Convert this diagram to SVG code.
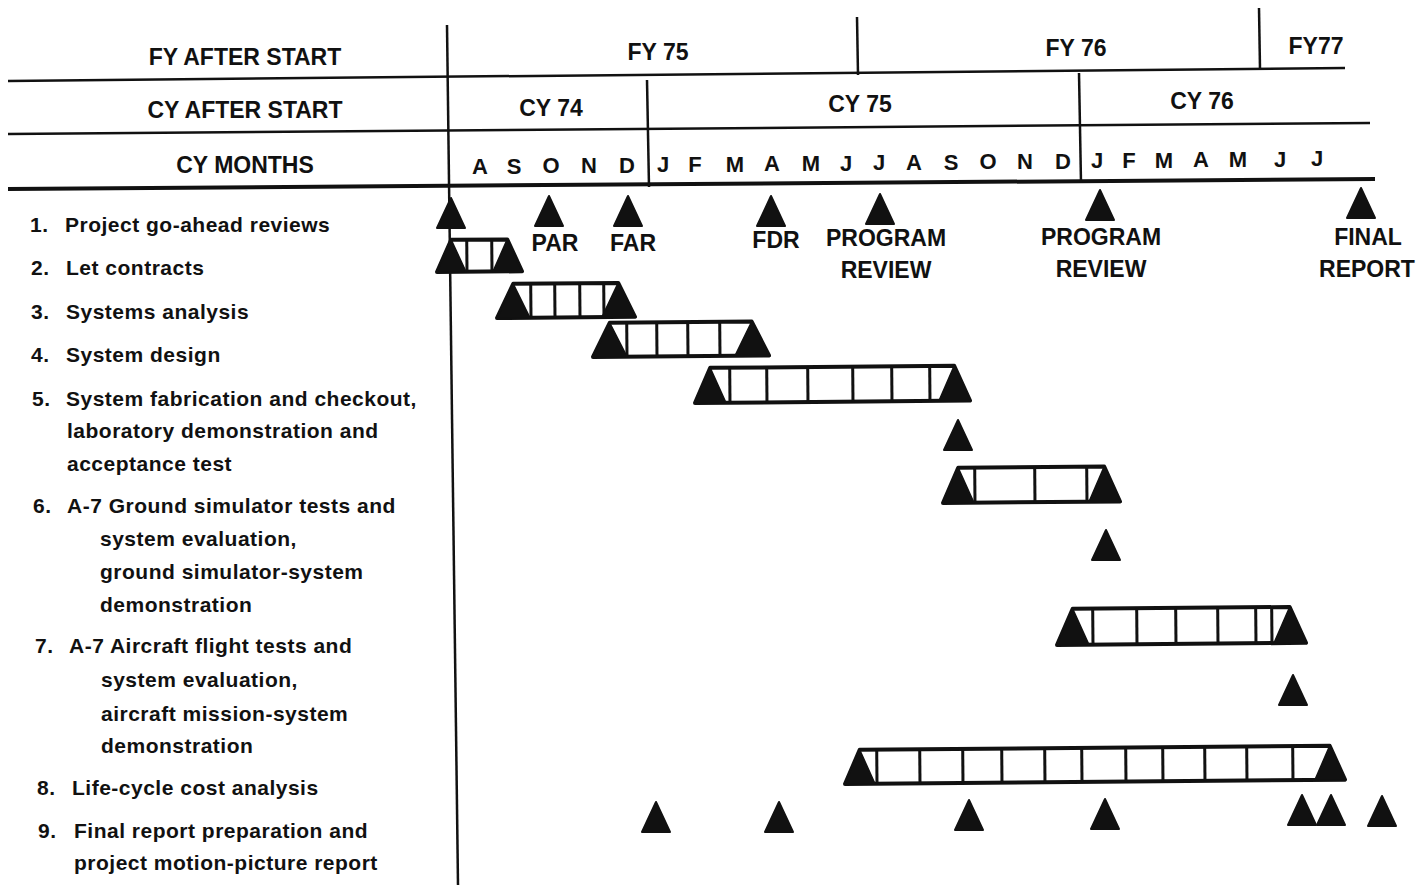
<svg xmlns="http://www.w3.org/2000/svg" xmlns:xlink="http://www.w3.org/1999/xlink" width="1419" height="885" viewBox="0 0 1419 885">
<style>
text{font-family:"Liberation Sans",Arial,sans-serif;font-weight:bold;fill:#111}
.hd{font-size:23px;text-anchor:middle}
.mo{font-size:22px;text-anchor:middle}
.ms{font-size:23px;text-anchor:middle}
.lb{font-size:21px;letter-spacing:0.5px}
.ln{stroke:#111;stroke-width:2.5;fill:none}
.thick{stroke:#111;stroke-width:4;fill:none}
.tri{fill:#111;stroke:#111;stroke-width:2;stroke-linejoin:round}
.bo{fill:#fff;stroke:#111;stroke-width:4;stroke-linejoin:round}
.dv{stroke:#111;stroke-width:3}
.bt{fill:#111;stroke:#111;stroke-width:1.5;stroke-linejoin:round}
</style>
<defs>
<path id="tri" d="M-14,0 L0,-30 L14,0 Z"/>
</defs>
<rect width="1419" height="885" fill="#fff"/>
<g id="connectors">
<line class="ln" x1="8" y1="81" x2="1345" y2="68"/>
<line class="ln" x1="8" y1="134" x2="1370" y2="123"/>
<line class="thick" x1="8" y1="189" x2="1375" y2="179"/>
<line class="ln" x1="447" y1="25" x2="458" y2="885"/>
<line class="ln" x1="857" y1="17" x2="858" y2="75"/>
<line class="ln" x1="1259" y1="8" x2="1260" y2="69"/>
<line class="ln" x1="647" y1="80" x2="649" y2="187"/>
<line class="ln" x1="1079" y1="73" x2="1081" y2="183"/>
</g>
<g id="header">
<text class="hd" x="245" y="65">FY AFTER START</text>
<text class="hd" x="245" y="118">CY AFTER START</text>
<text class="hd" x="245" y="173">CY MONTHS</text>
<text class="hd" x="658" y="60">FY 75</text>
<text class="hd" x="1076" y="56">FY 76</text>
<text class="hd" x="1316" y="54">FY77</text>
<text class="hd" x="551" y="116">CY 74</text>
<text class="hd" x="860" y="112">CY 75</text>
<text class="hd" x="1202" y="109">CY 76</text>
</g>
<g id="months">
<text class="mo" x="480" y="174">A</text>
<text class="mo" x="514" y="174">S</text>
<text class="mo" x="551" y="173">O</text>
<text class="mo" x="589" y="173">N</text>
<text class="mo" x="627" y="173">D</text>
<text class="mo" x="663" y="172">J</text>
<text class="mo" x="695" y="172">F</text>
<text class="mo" x="735" y="172">M</text>
<text class="mo" x="772" y="171">A</text>
<text class="mo" x="811" y="171">M</text>
<text class="mo" x="846" y="171">J</text>
<text class="mo" x="879" y="170">J</text>
<text class="mo" x="914" y="170">A</text>
<text class="mo" x="951" y="170">S</text>
<text class="mo" x="988" y="169">O</text>
<text class="mo" x="1025" y="169">N</text>
<text class="mo" x="1063" y="169">D</text>
<text class="mo" x="1097" y="168">J</text>
<text class="mo" x="1129" y="168">F</text>
<text class="mo" x="1164" y="168">M</text>
<text class="mo" x="1201" y="167">A</text>
<text class="mo" x="1238" y="167">M</text>
<text class="mo" x="1280" y="167">J</text>
<text class="mo" x="1317" y="166">J</text>
</g>
<g id="labels">
<text class="lb" x="30" y="232">1.</text><text class="lb" x="65" y="232">Project go-ahead reviews</text>
<text class="lb" x="31" y="275">2.</text><text class="lb" x="66" y="275">Let contracts</text>
<text class="lb" x="31" y="319">3.</text><text class="lb" x="66" y="319">Systems analysis</text>
<text class="lb" x="31" y="362">4.</text><text class="lb" x="66" y="362">System design</text>
<text class="lb" x="32" y="406">5.</text><text class="lb" x="66" y="406">System fabrication and checkout,</text>
<text class="lb" x="67" y="438">laboratory demonstration and</text>
<text class="lb" x="67" y="471">acceptance test</text>
<text class="lb" x="33" y="513">6.</text><text class="lb" x="67" y="513">A-7 Ground simulator tests and</text>
<text class="lb" x="100" y="546">system evaluation,</text>
<text class="lb" x="100" y="579">ground simulator-system</text>
<text class="lb" x="100" y="612">demonstration</text>
<text class="lb" x="35" y="653">7.</text><text class="lb" x="69" y="653">A-7 Aircraft flight tests and</text>
<text class="lb" x="101" y="687">system evaluation,</text>
<text class="lb" x="101" y="721">aircraft mission-system</text>
<text class="lb" x="101" y="753">demonstration</text>
<text class="lb" x="37" y="795">8.</text><text class="lb" x="72" y="795">Life-cycle cost analysis</text>
<text class="lb" x="38" y="838">9.</text><text class="lb" x="74" y="838">Final report preparation and</text>
<text class="lb" x="74" y="870">project motion-picture report</text>
</g>
<g id="milestones">
<use xlink:href="#tri" href="#tri" class="tri" x="451" y="228"/>
<use xlink:href="#tri" href="#tri" class="tri" x="549" y="226"/>
<use xlink:href="#tri" href="#tri" class="tri" x="628" y="226"/>
<use xlink:href="#tri" href="#tri" class="tri" x="771" y="226"/>
<use xlink:href="#tri" href="#tri" class="tri" x="880" y="224"/>
<use xlink:href="#tri" href="#tri" class="tri" x="1100" y="220"/>
<use xlink:href="#tri" href="#tri" class="tri" x="1361" y="218"/>
<text class="ms" x="555" y="251">PAR</text>
<text class="ms" x="633" y="251">FAR</text>
<text class="ms" x="776" y="248">FDR</text>
<text class="ms" x="886" y="246">PROGRAM</text>
<text class="ms" x="886" y="278">REVIEW</text>
<text class="ms" x="1101" y="245">PROGRAM</text>
<text class="ms" x="1101" y="277">REVIEW</text>
<text class="ms" x="1368" y="245">FINAL</text>
<text class="ms" x="1367" y="277">REPORT</text>
</g>
<g id="bar2" transform="rotate(-0.5 437 272)">
<polygon class="bo" points="437,272 451.5,240 507.5,240 522,272"/>
<line class="dv" x1="467" y1="240" x2="467" y2="272"/>
<line class="dv" x1="492" y1="240" x2="492" y2="272"/>
<polygon class="bt" points="437,272 451.5,240 466,272"/>
<polygon class="bt" points="493,272 507.5,240 522,272"/>
</g>
<g id="bar3" transform="rotate(-0.5 497 318)">
<polygon class="bo" points="497,318 513.5,284 618.5,284 635,318"/>
<line class="dv" x1="531" y1="284" x2="531" y2="318"/>
<line class="dv" x1="555" y1="284" x2="555" y2="318"/>
<line class="dv" x1="580" y1="284" x2="580" y2="318"/>
<line class="dv" x1="604" y1="284" x2="604" y2="318"/>
<polygon class="bt" points="497,318 513.5,284 530,318"/>
<polygon class="bt" points="602,318 618.5,284 635,318"/>
</g>
<g id="bar4" transform="rotate(-0.5 593 357)">
<polygon class="bo" points="593,357 610,323 752,323 769,357"/>
<line class="dv" x1="627" y1="323" x2="627" y2="357"/>
<line class="dv" x1="657" y1="323" x2="657" y2="357"/>
<line class="dv" x1="688" y1="323" x2="688" y2="357"/>
<line class="dv" x1="720" y1="323" x2="720" y2="357"/>
<polygon class="bt" points="593,357 610,323 627,357"/>
<polygon class="bt" points="735,357 752,323 769,357"/>
</g>
<g id="bar5" transform="rotate(-0.5 695 403)">
<polygon class="bo" points="695,403 710.5,368 954.5,368 970,403"/>
<line class="dv" x1="730" y1="368" x2="730" y2="403"/>
<line class="dv" x1="767" y1="368" x2="767" y2="403"/>
<line class="dv" x1="808" y1="368" x2="808" y2="403"/>
<line class="dv" x1="853" y1="368" x2="853" y2="403"/>
<line class="dv" x1="892" y1="368" x2="892" y2="403"/>
<line class="dv" x1="930" y1="368" x2="930" y2="403"/>
<polygon class="bt" points="695,403 710.5,368 726,403"/>
<polygon class="bt" points="939,403 954.5,368 970,403"/>
</g>
<use id="m5" xlink:href="#tri" href="#tri" class="tri" x="958" y="450"/>
<g id="bar6" transform="rotate(-0.5 943 503)">
<polygon class="bo" points="943,503 958.5,468 1104.5,468 1120,503"/>
<line class="dv" x1="975" y1="468" x2="975" y2="503"/>
<line class="dv" x1="1035" y1="468" x2="1035" y2="503"/>
<line class="dv" x1="1087" y1="468" x2="1087" y2="503"/>
<polygon class="bt" points="943,503 958.5,468 974,503"/>
<polygon class="bt" points="1089,503 1104.5,468 1120,503"/>
</g>
<use id="m6" xlink:href="#tri" href="#tri" class="tri" x="1106" y="560"/>
<g id="bar7" transform="rotate(-0.5 1057 645)">
<polygon class="bo" points="1057,645 1073,609 1290,609 1306,645"/>
<line class="dv" x1="1093" y1="609" x2="1093" y2="645"/>
<line class="dv" x1="1137" y1="609" x2="1137" y2="645"/>
<line class="dv" x1="1176" y1="609" x2="1176" y2="645"/>
<line class="dv" x1="1218" y1="609" x2="1218" y2="645"/>
<line class="dv" x1="1256" y1="609" x2="1256" y2="645"/>
<line class="dv" x1="1272" y1="609" x2="1272" y2="645"/>
<polygon class="bt" points="1057,645 1073,609 1089,645"/>
<polygon class="bt" points="1274,645 1290,609 1306,645"/>
</g>
<use id="m7" xlink:href="#tri" href="#tri" class="tri" x="1293" y="705"/>
<g id="bar8" transform="rotate(-0.5 845 784)">
<polygon class="bo" points="845,784 860,750 1330,750 1345,784"/>
<line class="dv" x1="877" y1="750" x2="877" y2="784"/>
<line class="dv" x1="920" y1="750" x2="920" y2="784"/>
<line class="dv" x1="963" y1="750" x2="963" y2="784"/>
<line class="dv" x1="1002" y1="750" x2="1002" y2="784"/>
<line class="dv" x1="1045" y1="750" x2="1045" y2="784"/>
<line class="dv" x1="1082" y1="750" x2="1082" y2="784"/>
<line class="dv" x1="1126" y1="750" x2="1126" y2="784"/>
<line class="dv" x1="1163" y1="750" x2="1163" y2="784"/>
<line class="dv" x1="1205" y1="750" x2="1205" y2="784"/>
<line class="dv" x1="1247" y1="750" x2="1247" y2="784"/>
<line class="dv" x1="1293" y1="750" x2="1293" y2="784"/>
<polygon class="bt" points="845,784 860,750 875,784"/>
<polygon class="bt" points="1315,784 1330,750 1345,784"/>
</g>
<g id="row9">
<use xlink:href="#tri" href="#tri" class="tri" x="656" y="832"/>
<use xlink:href="#tri" href="#tri" class="tri" x="779" y="832"/>
<use xlink:href="#tri" href="#tri" class="tri" x="969" y="830"/>
<use xlink:href="#tri" href="#tri" class="tri" x="1105" y="829"/>
<use xlink:href="#tri" href="#tri" class="tri" x="1302" y="825"/>
<use xlink:href="#tri" href="#tri" class="tri" x="1331" y="825"/>
<use xlink:href="#tri" href="#tri" class="tri" x="1382" y="826"/>
</g>
</svg>
